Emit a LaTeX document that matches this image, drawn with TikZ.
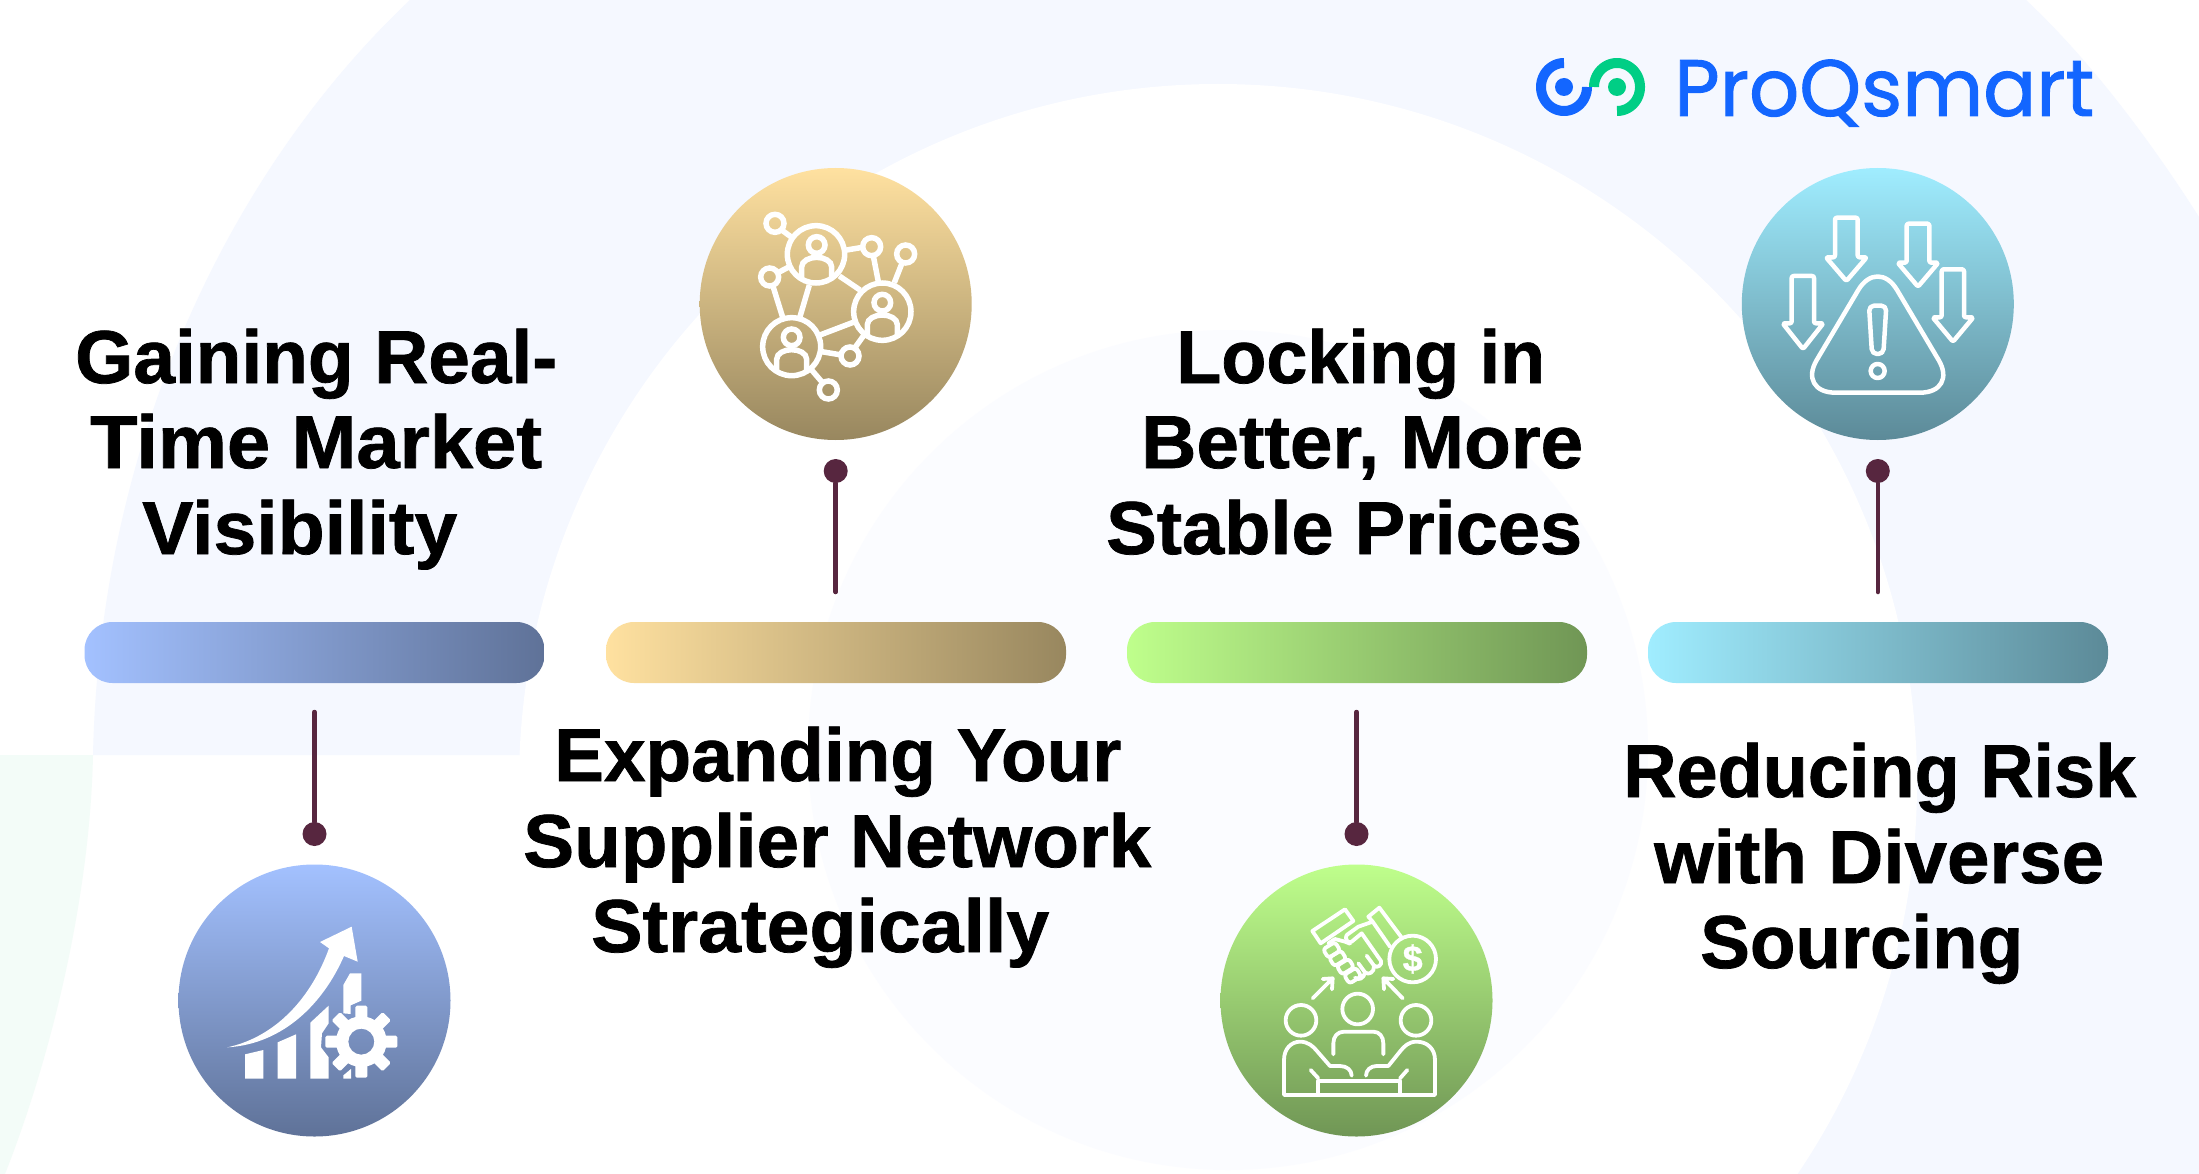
\documentclass[tikz,border=0pt]{standalone}
\usepackage{graphicx}
\usepackage{fontspec}
\setmainfont{Liberation Sans}
\newfontfamily\titlefont[FakeBold=1.0]{Liberation Sans Bold}
\newfontfamily\logofont[FakeBold=1.2]{Poppins}
\definecolor{palebg}{HTML}{F5F8FF}
\definecolor{faintbg}{HTML}{FBFCFF}
\definecolor{basebg}{HTML}{FFFFFF}
\definecolor{mintbg}{HTML}{F3FCF8}
\definecolor{stemcol}{HTML}{57263F}
\definecolor{logoblue}{HTML}{1366FF}
\definecolor{logogreen}{HTML}{00CE85}
\definecolor{blueA}{HTML}{A3C1FF}\definecolor{blueB}{HTML}{5F7298}
\definecolor{goldA}{HTML}{FFE1A0}\definecolor{goldB}{HTML}{98875F}
\definecolor{greenA}{HTML}{BFFF8C}\definecolor{greenB}{HTML}{709655}
\definecolor{tealA}{HTML}{A0EDFF}\definecolor{tealB}{HTML}{5C8A98}
\tikzset{
  x=1pt,y=-1pt,
  discnode/.style={circle,minimum size=272pt,inner sep=0pt,top color=#1A,bottom color=#1B},
  barnode/.style={rectangle,rounded corners=28pt,minimum width=460pt,minimum height=61pt,inner sep=0pt,left color=#1A,right color=#1B},
  dotnode/.style={circle,fill=stemcol,minimum size=24pt,inner sep=0pt},
  stemline/.style={draw=stemcol,line width=4.5pt,line cap=round},
  icon/.style={x=0.33333pt,y=-0.33333pt},
  titleline/.style={anchor=base west,inner sep=0pt,font=\titlefont\fontsize{75}{75}\selectfont,text=black},
}
\newcommand{\tline}[5]{\node[titleline] (#1) at (#2,#3) {\resizebox{#4pt}{\height}{#5}};}
\begin{document}
\begin{tikzpicture}
\useasboundingbox (0,0) rectangle (2199,1174);
% background
\fill[basebg] (0,0) rectangle (2199,1174);
\fill[palebg] (410,0) -- (2026,0) .. controls (2090,60) and (2150,140) .. (2199,217) -- (2199,1174) -- (1218,1174) -- (1218,755) -- (93,755) .. controls (100,440) and (230,170) .. (410,0) -- cycle;
\fill[mintbg] (0,755) -- (93,755) .. controls (90,900) and (50,1060) .. (5,1174) -- (0,1174) -- cycle;
\fill[basebg] (1218,783) circle (699);
\fill[faintbg] (1228,750) circle (420);
% titles
\tline{t1a}{75}{383}{482}{Gaining Real-}
\tline{t1b}{90}{468}{452}{Time Market}
\tline{t1c}{142}{554}{315}{Visibility}
\tline{t2a}{554}{781}{567}{Expanding Your}
\tline{t2b}{523}{867}{628}{Supplier Network}
\tline{t2c}{591}{952}{458}{Strategically}
\tline{t3a}{1176}{383}{369}{Locking in}
\tline{t3b}{1141}{468}{442}{Better, More}
\tline{t3c}{1106}{554}{476}{Stable Prices}
\tline{t4a}{1623}{797}{513}{Reducing Risk}
\tline{t4b}{1654}{883}{450}{with Diverse}
\tline{t4c}{1700}{968}{323}{Sourcing}
% bars
\node[barnode=blue]  (bar1) at (314.5,652.5) {};
\node[barnode=gold]  (bar2) at (836,652.5) {};
\node[barnode=green] (bar3) at (1357,652.5) {};
\node[barnode=teal]  (bar4) at (1878,652.5) {};
% discs
\node[discnode=blue]  (disc1) at (314.5,1000.5) {};
\node[discnode=gold]  (disc2) at (835.7,304) {};
\node[discnode=green] (disc3) at (1356.5,1000.5) {};
\node[discnode=teal]  (disc4) at (1877.8,304) {};
% stems
\node[dotnode] (dot1) at (314.5,834) {};
\node[dotnode] (dot2) at (835.7,471) {};
\node[dotnode] (dot3) at (1356.5,834) {};
\node[dotnode] (dot4) at (1877.8,471) {};
\coordinate (end1) at (314.5,712);
\coordinate (end2) at (835.7,592);
\coordinate (end3) at (1356.5,712);
\coordinate (end4) at (1877.8,592);
\foreach \i in {1,2,3,4} \draw[stemline] (dot\i) -- (end\i);
% icon 1
\begin{scope}[shift={(150,840)},icon]
\fill[white] (285,716) -- (285,643) -- (340,630) -- (340,716) -- cycle;
\fill[white] (383,716) -- (383,607) -- (438,583) -- (438,716) -- cycle;
\fill[white] (481,716) -- (481,548) -- (536,497) -- (536,550) -- (516,580) -- (513,622) -- (536,652) -- (536,716) -- cycle;
\fill[white] (580,520) -- (580,435) -- (600,400) -- (634,400) -- (634,482) -- (602,496) -- (602,522) -- cycle;
\fill[white] (580,716) -- (580,706) -- (603,687) -- (603,716) -- cycle;
\fill[white,line join=round] (232,622) .. controls (380,590) and (485,470) .. (537,325) -- (510,306) -- (605,260) -- (623,365) -- (582,348) .. controls (520,490) and (400,612) .. (232,622) -- cycle;
\begin{scope}[shift={(634,605)}]
\fill[white,even odd rule] (0,0) circle (76) (0,0) circle (39);
\foreach \a in {0,45,...,315}
  \fill[white,rotate=\a,rounded corners=1.5pt] (-18,-108) rectangle (18,-55);
\end{scope}
\end{scope}
% icon 2
\begin{scope}[shift={(680,150)},icon,draw=white,line width=5.5pt]
\draw (408,313) circle (86) (607,485) circle (86) (335,590) circle (87);
\foreach \c in {(285,220),(269,381),(575,290),(677,312),(510,618),(445,720)}
  \draw \c circle (27);
\foreach \p/\q in {410/285,607/458,335/562}{
  \draw (\p,\q) circle (25);
  \draw (\p-45,\q+98) -- (\p-45,\q+66) .. controls (\p-45,\q+48) and (\p-22,\q+37) .. (\p,\q+37) .. controls (\p+22,\q+37) and (\p+45,\q+48) .. (\p+45,\q+66) -- (\p+45,\q+98);
}
\draw (305,240) -- (335,262);
\draw (298,366) -- (332,348);
\draw (280,412) -- (308,502);
\draw (388,405) -- (360,500);
\draw (478,378) -- (540,420);
\draw (500,300) -- (548,292);
\draw (580,318) -- (595,395);
\draw (665,342) -- (643,398);
\draw (420,555) -- (525,515);
\draw (425,605) -- (485,615);
\draw (527,590) -- (550,558);
\draw (395,660) -- (425,695);
\end{scope}
% icon 3
\begin{scope}[shift={(1200,840)},icon,draw=white,line width=3.8pt,line cap=round,line join=round]
\draw (303,541) circle (46) (473,507) circle (46) (648,541) circle (46);
\draw (400,643) -- (400,610) .. controls (400,590) and (412,575) .. (432,575) -- (520,575) .. controls (538,575) and (550,590) .. (550,610) -- (550,643);
\draw (355,765) -- (252,765) -- (252,660) .. controls (252,625) and (275,605) .. (300,605) .. controls (325,605) and (340,620) .. (350,632) -- (390,678) -- (420,678) .. controls (440,678) and (455,690) .. (455,707);
\draw (600,765) -- (705,765) -- (705,660) .. controls (705,625) and (680,605) .. (650,605) .. controls (625,605) and (612,620) .. (602,632) -- (565,678) -- (530,678) .. controls (512,678) and (498,690) .. (498,707);
\draw (355,765) -- (600,765);
\draw (355,765) -- (355,722) -- (600,722) -- (600,765);
\draw (332,690) -- (355,715);
\draw (622,690) -- (600,715);
\draw (338,475) -- (398,415) (368,417) -- (398,415) -- (396,448);
\draw (608,475) -- (550,415) (580,417) -- (550,415) -- (552,448);
\draw (638,357) circle (70);
\node[text=white,inner sep=0pt,font=\titlefont\fontsize{36}{36}\selectfont] (coinsign) at (638,357) {\$};
\end{scope}
% handshake
\begin{scope}[shift={(1300,895)},icon,draw=white,line width=3.8pt,line cap=round,line join=round]
\draw (37,108) -- (135,43) -- (160,78) -- (62,145) -- cycle;
\draw (218,80) -- (205,65) -- (238,38) -- (303,125);
\draw (140,120) -- (175,95) -- (218,80) -- (270,155);
\draw (140,120) .. controls (132,130) and (145,148) .. (155,140) -- (185,115) -- (243,198) .. controls (248,208) and (232,222) .. (222,212) -- (200,182);
\draw (222,212) .. controls (224,232) and (205,242) .. (195,232) -- (175,205);
\draw (195,232) .. controls (192,250) and (175,258) .. (165,248);
\draw (85,145) -- (105,132) -- (135,140) -- (150,146);
\foreach \c in {(95,165),(113,190),(136,215),(158,242)}
  \draw[rounded corners=3pt,shift={\c}] (-26,-2) -- (10,-24) -- (26,2) -- (-10,24) -- cycle;
\end{scope}
% icon 4
\begin{scope}[shift={(1720,150)},icon,draw=white,line width=4.5pt,line join=round]
\draw[rounded corners=38pt] (473,322) -- (714,728) -- (232,728) -- cycle;
\draw[rounded corners=5pt] (447,467) -- (499,467) -- (490,612) -- (456,612) -- cycle;
\draw (473,663) circle (21);
\draw[rounded corners=2pt] (345,322) -- (345,203) -- (413,203) -- (413,322) -- (440,322) -- (379,393) -- (318,322) -- cycle;
\draw[rounded corners=2pt] (560,338) -- (560,221) -- (628,221) -- (628,338) -- (655,338) -- (594,410) -- (533,338) -- cycle;
\draw[rounded corners=2pt] (215,520) -- (215,378) -- (282,378) -- (282,520) -- (310,520) -- (249,597) -- (188,520) -- cycle;
\draw[rounded corners=2pt] (665,502) -- (665,358) -- (732,358) -- (732,502) -- (760,502) -- (699,575) -- (638,502) -- cycle;
\end{scope}
% logo
\draw[logoblue,line width=10pt] plot[domain=-90:-360,samples=60] ({1564+23*cos(\x)},{87+24*sin(\x)});
\draw[logogreen,line width=10pt] plot[domain=180:450,samples=60] ({1617+23*cos(\x)},{87+24*sin(\x)});
\fill[logoblue] (1564,87) circle (9);
\fill[logogreen] (1617,87) circle (9);
\node[anchor=base west,inner sep=0pt,text=logoblue,font=\logofont\fontsize{80}{80}\selectfont] (logo) at (1674,116) {\resizebox{420pt}{\height}{ProQsmart}};
\end{tikzpicture}
\end{document}
